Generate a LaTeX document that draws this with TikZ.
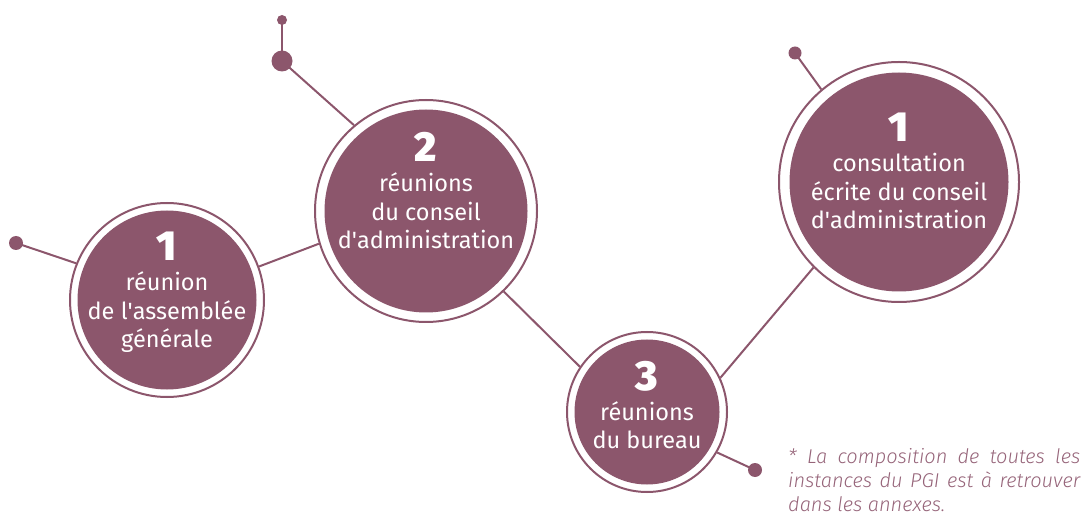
\documentclass[tikz,border=0pt]{standalone}
\usepackage{fontspec}
\setmainfont{Fira Sans}
\IfFontExistsTF{Fira Sans Light}{\newfontfamily\notefont{Fira Sans Light}}{\newfontfamily\notefont{Fira Sans}}
\IfFontExistsTF{Fira Sans Black}{\newfontfamily\numfont{Fira Sans Black}}{\newfontfamily\numfont{Fira Sans}[UprightFeatures={FakeBold=1.5}]}
\definecolor{plum}{HTML}{8C566C}
\definecolor{notecol}{HTML}{966479}
\tikzset{
  ring/.style={circle, draw=plum, line width=2pt, inner sep=0pt, fill=white},
  disc/.style={circle, fill=plum, inner sep=0pt},
  dotnode/.style={circle, fill=plum, inner sep=0pt},
  link/.style={draw=plum, line width=2pt},
  lbl/.style={text=white, align=center, inner sep=0pt,
    font=\fontsize{23.5}{28.5}\selectfont},
}
\newcommand{\bignum}[1]{{\fontsize{42}{42}\selectfont\numfont #1}}
\newcommand{\ap}{\textquotesingle}
\begin{document}
\begin{tikzpicture}[x=1pt,y=-1pt]
\useasboundingbox (0,0) rectangle (1084,518);
% dots
\node[dotnode, minimum size=14] (d1) at (16,243) {};
\node[dotnode, minimum size=10] (d2a) at (282,20) {};
\node[dotnode, minimum size=21] (d2b) at (282,61) {};
\node[dotnode, minimum size=13] (d4) at (795,53) {};
\node[dotnode, minimum size=14] (d3) at (755,470) {};
% rings
\node[ring, minimum size=194] (r1) at (167,300) {};
\node[ring, minimum size=222] (r2) at (426,211) {};
\node[ring, minimum size=160] (r3) at (647,412) {};
\node[ring, minimum size=240] (r4) at (899,182) {};
% discs
\node[disc, minimum size=179] (c1) at (r1.center) {};
\node[disc, minimum size=203] (c2) at (r2.center) {};
\node[disc, minimum size=145] (c3) at (r3.center) {};
\node[disc, minimum size=219] (c4) at (r4.center) {};
% connectors
\draw[link] (d1.center) -- (r1.158.4);
\draw[link] (r1.20.3) -- (r2.197.6);
\draw[link] (d2a.center) -- (d2b.center);
\draw[link] (d2b.center) -- (r2.130.7);
\draw[link] (r2.-46.1) -- (r3.146.7);
\draw[link] (r3.25.6) -- (r4.225);
\draw[link] (r3.-30.7) -- (d3.center);
\draw[link] (d4.center) -- (r4.130.2);
% labels
\node[lbl] (t1) at ([yshift=7.5]c1.center) {\bignum{1}\\[1.5pt]réunion\\de l\ap assemblée\\générale};
\node[lbl] (t2) at ([yshift=20]c2.center) {\bignum{2}\\[1.5pt]réunions\\du conseil\\d\ap administration};
\node[lbl] (t3) at ([yshift=7]c3.center) {\bignum{3}\\[1.5pt]réunions\\du bureau};
\node[lbl] (t4) at ([yshift=11]c4.center) {\bignum{1}\\[1.5pt]consultation\\écrite du conseil\\d\ap administration};
% note
\node[anchor=north west, inner sep=0pt, text width=292pt, align=justify,
  text=notecol, font=\fontsize{20}{24.2}\selectfont\notefont\itshape] (note) at (788,448)
  {* La composition de toutes les\linebreak instances du PGI est à retrouver\linebreak dans les annexes.};
\end{tikzpicture}
\end{document}
